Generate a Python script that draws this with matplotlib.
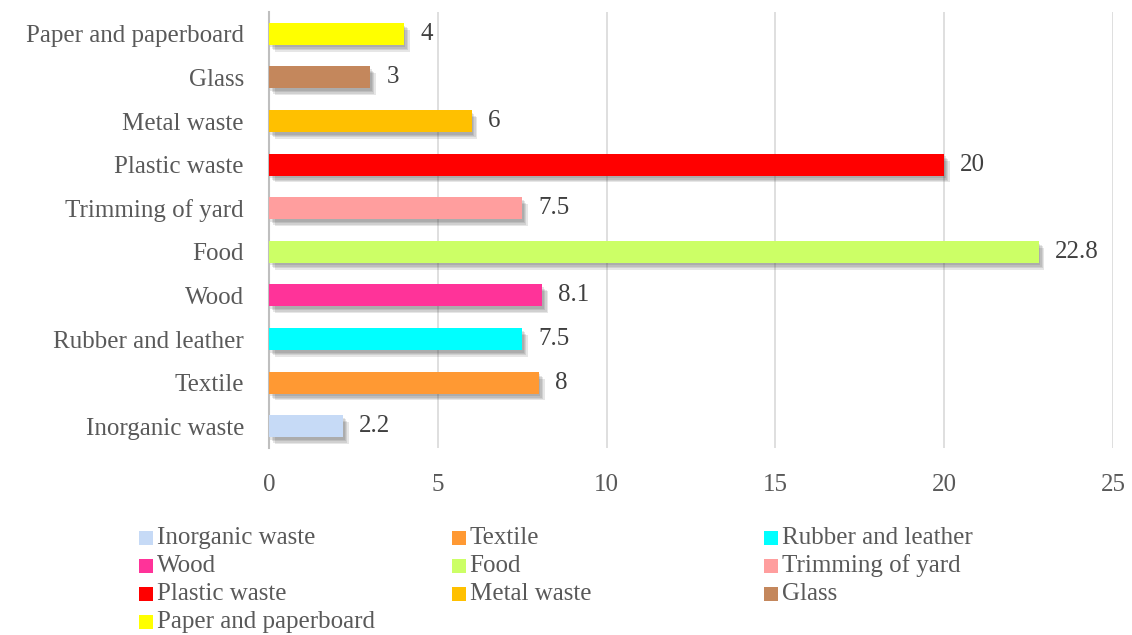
import matplotlib.pyplot as plt
from matplotlib import patheffects as pe
from matplotlib.patches import Rectangle

plt.rcParams['font.family'] = ['Liberation Serif', 'DejaVu Serif']

categories = ['Inorganic waste', 'Textile', 'Rubber and leather', 'Wood', 'Food',
              'Trimming of yard', 'Plastic waste', 'Metal waste', 'Glass',
              'Paper and paperboard']
values = [2.2, 8, 7.5, 8.1, 22.8, 7.5, 20, 6, 3, 4]
colors = ['#C6DAF6', '#FF9933', '#00FFFF', '#FF3399', '#CCFF66',
          '#FF9E9E', '#FF0000', '#FFC000', '#C4875C', '#FFFF00']
xticks = [0, 5, 10, 15, 20, 25]

txt = '#595959'

fig = plt.figure(figsize=(11.32, 6.35), dpi=100)
ax = fig.add_axes([269 / 1132, 1 - 448 / 635, (1113 - 269) / 1132, 436 / 635])

# soft drop shadow: a few stacked faint offsets
shadow = [pe.SimplePatchShadow(offset=(d, -d - 1), shadow_rgbFace='#404040', alpha=0.13)
          for d in (1, 2, 3, 4)] + [pe.Normal()]
bars = ax.barh(range(len(categories)), values, height=0.5, color=colors, zorder=3)
for b in bars:
    b.set_path_effects(shadow)

for i, v in enumerate(values):
    ax.annotate(f'{v:g}', xy=(v, i), xytext=(11.5, 0), textcoords='offset points',
                va='center', ha='left', fontsize=18, color='#404040')

ax.set_xlim(0, 25)
ax.set_ylim(-0.5, len(categories) - 0.5)
ax.set_xticks(xticks)
ax.set_yticks(range(len(categories)))
ax.set_yticklabels(categories)
ax.tick_params(axis='both', length=0, labelsize=18, colors=txt)
ax.tick_params(axis='y', pad=18)
ax.tick_params(axis='x', pad=18.5)
ax.grid(axis='x', color='#D9D9D9', linewidth=1.2, zorder=0)
for s in ['top', 'right', 'bottom']:
    ax.spines[s].set_visible(False)
ax.spines['left'].set_color('#BFBFBF')
ax.spines['left'].set_linewidth(1.5)

# legend laid out row by row in equal-width columns
W, H = 1132, 635
for k, (name, c) in enumerate(zip(categories, colors)):
    row, col = divmod(k, 3)
    x0 = 139 + col * 312.5
    y0 = 538 + row * 28
    fig.add_artist(Rectangle((x0 / W, 1 - (y0 + 7) / H), 14 / W, 14 / H,
                             facecolor=c, edgecolor='none', transform=fig.transFigure))
    fig.text((x0 + 18) / W, 1 - y0 / H, name, fontsize=18, color=txt,
             va='center', ha='left')

fig.savefig('out.png', dpi=100)
